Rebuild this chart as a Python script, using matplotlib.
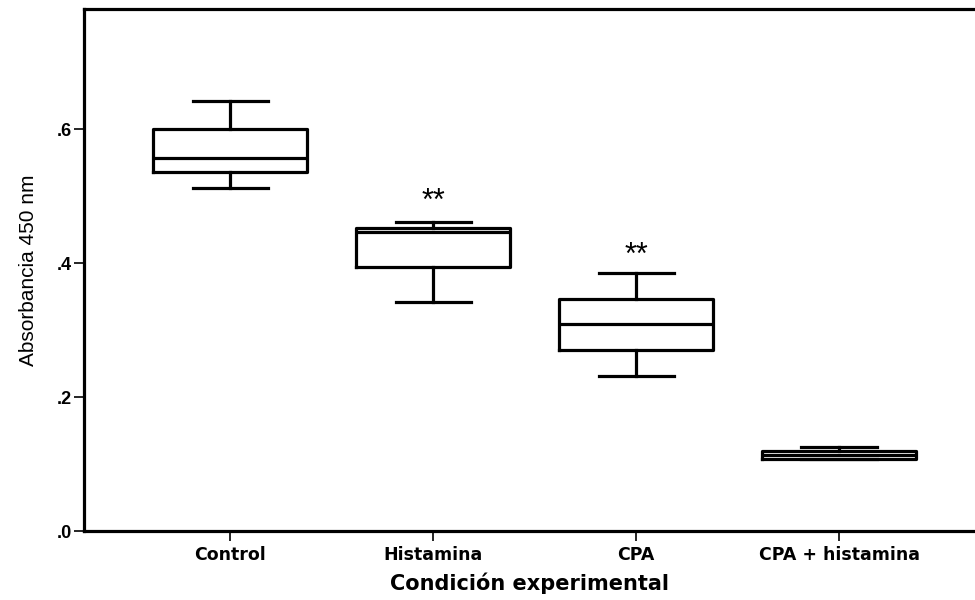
import matplotlib
matplotlib.use("Agg")
import matplotlib.pyplot as plt
from matplotlib.ticker import FuncFormatter

# values (absorbance at 450 nm)
groups = ["Control", "Histamina", "CPA", "CPA + histamina"]
whisker_low = [0.513, 0.342, 0.232, 0.107]
q1 = [0.536, 0.394, 0.270, 0.108]
median = [0.558, 0.447, 0.309, 0.114]
q3 = [0.600, 0.453, 0.347, 0.119]
whisker_high = [0.642, 0.461, 0.386, 0.126]
signif = ["", "**", "**", ""]
signif_y = [0, 0.470, 0.389, 0]

stats = []
for i, name in enumerate(groups):
    stats.append(dict(label=name, whislo=whisker_low[i], q1=q1[i], med=median[i],
                      q3=q3[i], whishi=whisker_high[i], fliers=[]))

fig = plt.figure(figsize=(9.75, 6), dpi=100)
ax = fig.add_axes([0.0862, 0.115, 0.9138, 0.87])

lw = 2.3
pos = list(range(1, len(groups) + 1))
ax.bxp(stats, positions=pos, widths=0.76, showfliers=False, patch_artist=False,
       boxprops=dict(color="black", linewidth=lw),
       medianprops=dict(color="black", linewidth=lw),
       whiskerprops=dict(color="black", linewidth=lw),
       capprops=dict(color="black", linewidth=lw),
       capwidths=0.37)

for p, s, y in zip(pos, signif, signif_y):
    if s:
        ax.text(p, y, s, ha="center", va="bottom", fontsize=22,
                family="Liberation Sans")

ax.set_xlim(0.28, 4.67)
ax.set_ylim(0, 0.78)
ax.set_yticks([0.0, 0.2, 0.4, 0.6])
ax.yaxis.set_major_formatter(FuncFormatter(lambda v, _: ("%.1f" % v).lstrip("0")))
ax.set_xticks(pos)
ax.set_xticklabels(groups, fontsize=12.5, fontweight="bold", family="DejaVu Sans")
for t in ax.get_yticklabels():
    t.set_fontsize(13)
    t.set_fontweight("bold")
    t.set_family("Liberation Sans")

ax.tick_params(axis="y", direction="out", length=7, width=1.2, pad=2)
ax.tick_params(axis="x", direction="out", length=7, width=1.2, pad=4)

for side in ["left", "bottom", "top"]:
    ax.spines[side].set_linewidth(2.3)
ax.spines["right"].set_visible(False)

ax.set_xlabel("Condición experimental", fontsize=15, fontweight="bold",
              family="DejaVu Sans", labelpad=6)
ax.set_ylabel("Absorbancia 450 nm", fontsize=15, family="Liberation Sans", labelpad=13)

fig.savefig("out.png", dpi=100)
